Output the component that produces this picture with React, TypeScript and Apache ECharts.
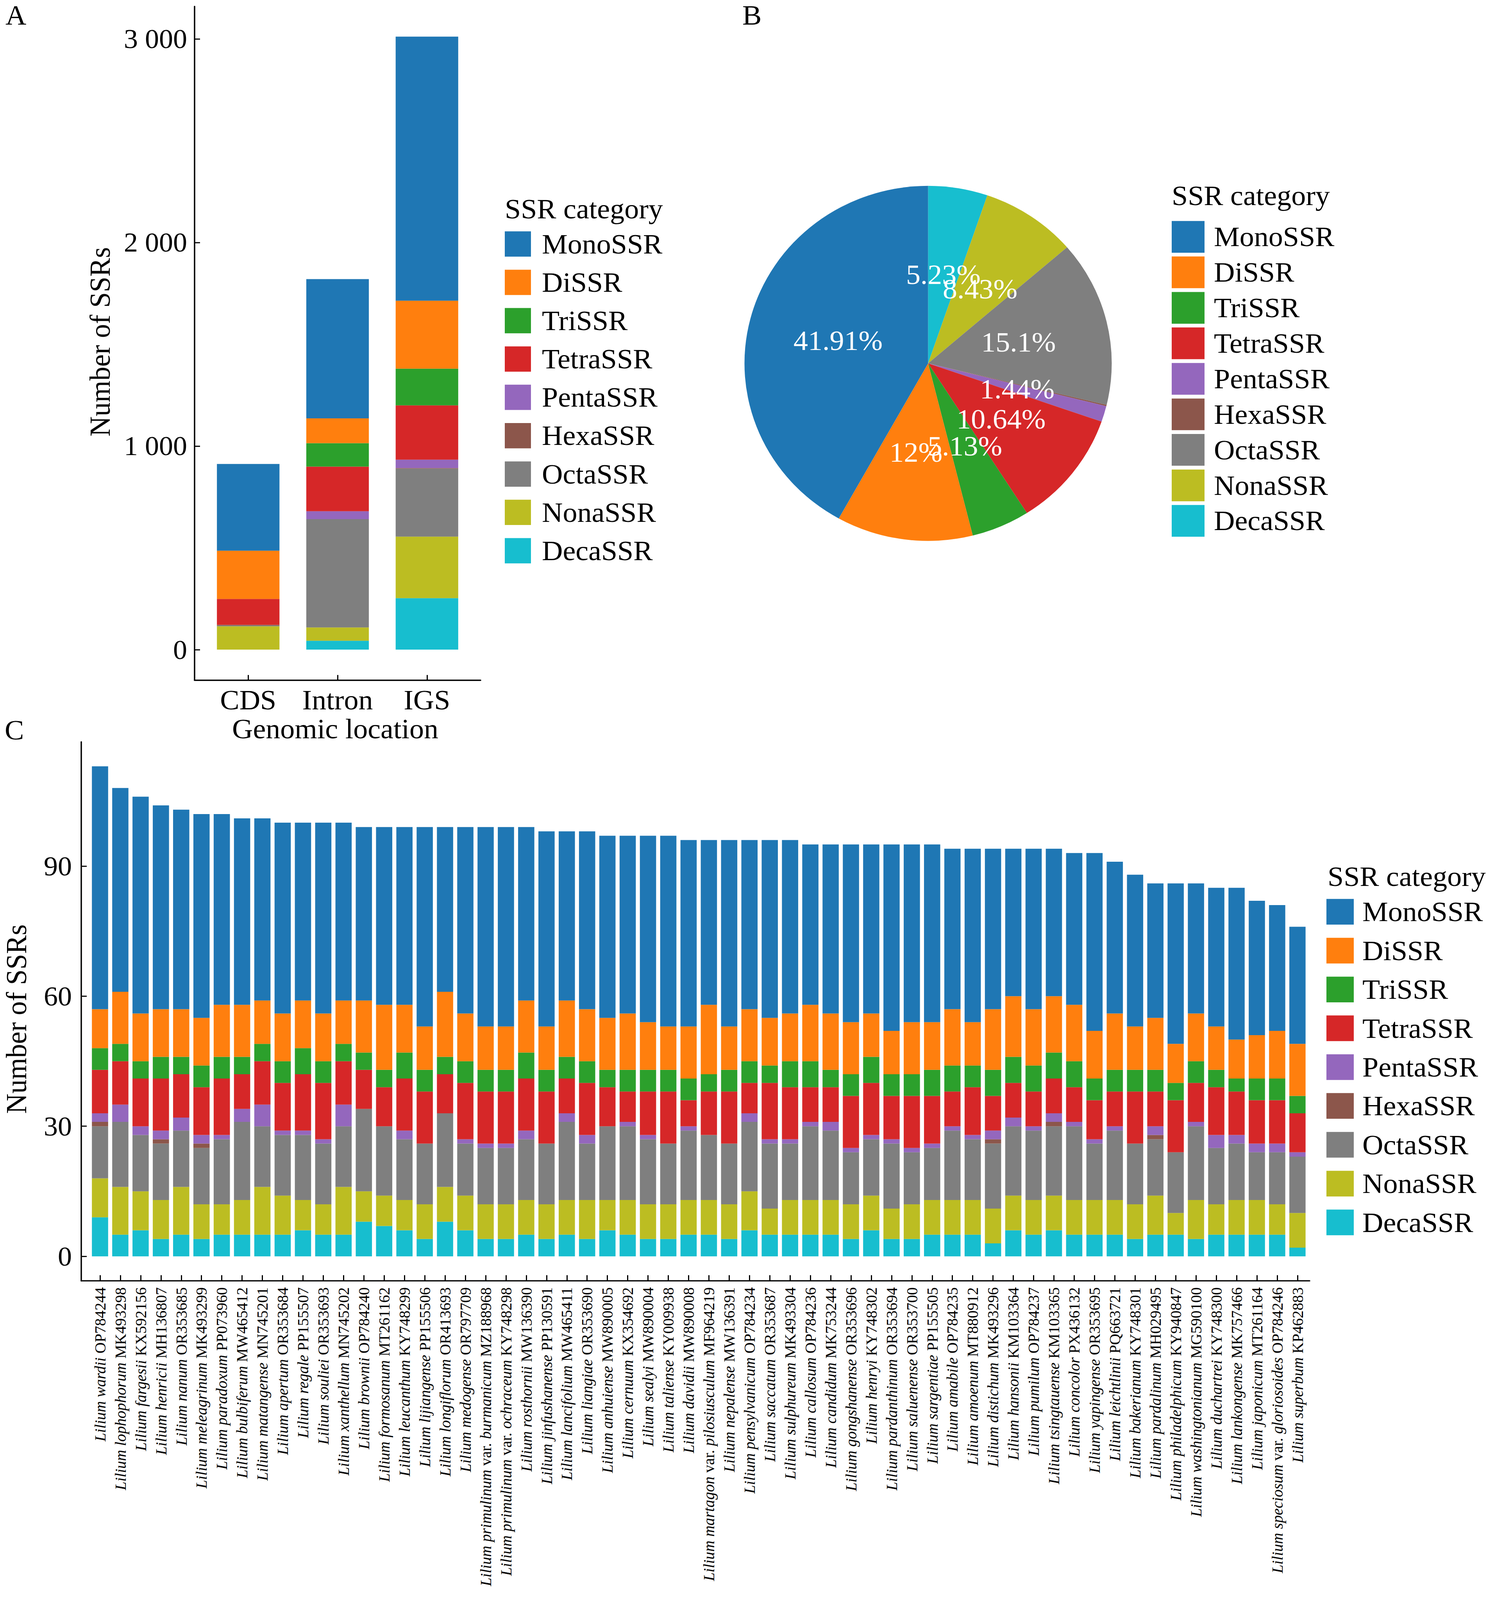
import React, { useEffect, useRef } from "react";
import * as echarts from "echarts";

const FONT = "Liberation Serif";
const PAGE_W = 3806;
const PAGE_H = 4236;

const ssrTypes = ["MonoSSR", "DiSSR", "TriSSR", "TetraSSR", "PentaSSR", "HexaSSR", "OctaSSR", "NonaSSR", "DecaSSR"];
const ssrColors = ["#1f77b4", "#ff7f0e", "#2ca02c", "#d62728", "#9467bd", "#8c564b", "#7f7f7f", "#bcbd22", "#17becf"];

// ---------- Panel A ----------
const locations = ["CDS", "Intron", "IGS"];
const aMono = [426, 684, 1297];
const aDi = [237, 122, 334];
const aTri = [0, 115, 180];
const aTetra = [127, 219, 267];
const aPenta = [0, 39, 41];
const aHexa = [3, 0, 3];
const aOcta = [4, 532, 334];
const aNona = [115, 65, 302];
const aDeca = [0, 44, 253];
const aTickValues = [0, 1000, 2000, 3000];

// ---------- Panel B (clockwise from 12 o'clock) ----------
const pieNames = ["DecaSSR", "NonaSSR", "OctaSSR", "HexaSSR", "PentaSSR", "TetraSSR", "TriSSR", "DiSSR", "MonoSSR"];
const piePercents = [5.23, 8.43, 15.1, 0.12, 1.44, 10.64, 5.13, 12, 41.91];

// ---------- Panel C ----------
const species = [
  "Lilium wardii", "Lilium lophophorum", "Lilium fargesii", "Lilium henricii", "Lilium nanum",
  "Lilium meleagrinum", "Lilium paradoxum", "Lilium bulbiferum", "Lilium matangense", "Lilium apertum",
  "Lilium regale", "Lilium souliei", "Lilium xanthellum", "Lilium brownii", "Lilium formosanum",
  "Lilium leucanthum", "Lilium lijiangense", "Lilium longiflorum", "Lilium medogense", "Lilium primulinum var. burmanicum",
  "Lilium primulinum var. ochraceum", "Lilium rosthornii", "Lilium jinfushanense", "Lilium lancifolium", "Lilium liangiae",
  "Lilium anhuiense", "Lilium cernuum", "Lilium sealyi", "Lilium taliense", "Lilium davidii",
  "Lilium martagon var. pilosiusculum", "Lilium nepalense", "Lilium pensylvanicum", "Lilium saccatum", "Lilium sulphureum",
  "Lilium callosum", "Lilium candidum", "Lilium gongshanense", "Lilium henryi", "Lilium pardanthinum",
  "Lilium saluenense", "Lilium sargentiae", "Lilium amabile", "Lilium amoenum", "Lilium distichum",
  "Lilium hansonii", "Lilium pumilum", "Lilium tsingtauense", "Lilium concolor", "Lilium yapingense",
  "Lilium leichtlinii", "Lilium bakerianum", "Lilium pardalinum", "Lilium philadelphicum", "Lilium washingtonianum",
  "Lilium duchartrei", "Lilium lankongense", "Lilium japonicum", "Lilium speciosum var. gloriosoides", "Lilium superbum",
];
const accessions = [
  "OP784244", "MK493298", "KX592156", "MH136807", "OR353685",
  "MK493299", "PP073960", "MW465412", "MN745201", "OR353684",
  "PP155507", "OR353693", "MN745202", "OP784240", "MT261162",
  "KY748299", "PP155506", "OR413693", "OR797709", "MZ188968",
  "KY748298", "MW136390", "PP130591", "MW465411", "OR353690",
  "MW890005", "KX354692", "MW890004", "KY009938", "MW890008",
  "MF964219", "MW136391", "OP784234", "OR353687", "MK493304",
  "OP784236", "MK753244", "OR353696", "KY748302", "OR353694",
  "OR353700", "PP155505", "OP784235", "MT880912", "MK493296",
  "KM103364", "OP784237", "KM103365", "PX436132", "OR353695",
  "PQ663721", "KY748301", "MH029495", "KY940847", "MG590100",
  "KY748300", "MK757466", "MT261164", "OP784246", "KP462883",
];
const cMono = [56, 47, 50, 47, 46, 47, 44, 43, 42, 44, 41, 44, 41, 40, 41, 41, 46, 38, 43, 46, 46, 40, 45, 39, 41, 42, 41, 43, 44, 43, 38, 43, 39, 41, 40, 37, 39, 41, 39, 43, 41, 41, 37, 40, 37, 34, 37, 34, 35, 41, 35, 35, 31, 37, 30, 32, 35, 31, 29, 27];
const cDi = [9, 12, 11, 11, 11, 11, 12, 12, 10, 11, 11, 11, 10, 12, 15, 11, 10, 15, 11, 10, 10, 12, 10, 13, 12, 12, 13, 11, 10, 12, 16, 10, 12, 11, 11, 13, 13, 12, 10, 10, 12, 11, 13, 10, 14, 14, 13, 13, 13, 11, 13, 10, 12, 9, 11, 10, 9, 10, 11, 12];
const cTri = [5, 4, 4, 5, 4, 5, 5, 4, 4, 5, 6, 5, 4, 4, 4, 6, 5, 4, 5, 5, 5, 6, 5, 5, 5, 4, 5, 5, 5, 5, 4, 5, 5, 4, 6, 6, 4, 5, 6, 5, 5, 6, 6, 5, 6, 6, 6, 6, 6, 5, 5, 5, 5, 4, 5, 4, 3, 5, 5, 4];
const cTetra = [10, 10, 11, 12, 10, 11, 13, 8, 10, 11, 13, 13, 10, 9, 9, 12, 12, 9, 13, 12, 12, 12, 12, 8, 12, 9, 7, 10, 12, 6, 10, 12, 7, 13, 12, 8, 8, 12, 12, 10, 12, 11, 8, 11, 8, 8, 8, 8, 8, 9, 8, 12, 8, 12, 9, 11, 10, 10, 10, 9];
const cPenta = [2, 4, 2, 2, 3, 2, 1, 3, 5, 1, 1, 1, 5, 0, 0, 2, 0, 0, 1, 1, 1, 2, 0, 2, 2, 0, 1, 1, 0, 1, 0, 0, 2, 1, 1, 1, 2, 1, 1, 1, 1, 1, 1, 1, 2, 2, 1, 2, 1, 1, 1, 0, 2, 0, 1, 3, 2, 2, 2, 1];
const cHexa = [1, 0, 0, 1, 0, 1, 0, 0, 0, 0, 0, 0, 0, 0, 0, 0, 0, 0, 0, 0, 0, 0, 0, 0, 0, 0, 0, 0, 0, 0, 0, 0, 0, 0, 0, 0, 0, 0, 0, 0, 0, 0, 0, 0, 1, 0, 0, 1, 0, 0, 0, 0, 1, 0, 0, 0, 0, 0, 0, 0];
const cOcta = [12, 15, 13, 13, 13, 13, 15, 18, 14, 14, 15, 14, 14, 19, 16, 14, 14, 17, 12, 13, 13, 14, 14, 18, 13, 17, 17, 15, 14, 16, 15, 14, 16, 15, 13, 17, 16, 12, 13, 15, 12, 12, 16, 14, 15, 16, 16, 16, 17, 13, 16, 14, 13, 14, 17, 13, 13, 11, 12, 13];
const cNona = [9, 11, 9, 9, 11, 8, 7, 8, 11, 9, 7, 7, 11, 7, 7, 7, 8, 8, 8, 8, 8, 8, 8, 8, 9, 7, 8, 8, 8, 8, 8, 8, 9, 6, 8, 8, 8, 8, 8, 7, 8, 8, 8, 8, 8, 8, 8, 8, 8, 8, 8, 8, 9, 5, 9, 7, 8, 8, 7, 8];
const cDeca = [9, 5, 6, 4, 5, 4, 5, 5, 5, 5, 6, 5, 5, 8, 7, 6, 4, 8, 6, 4, 4, 5, 4, 5, 4, 6, 5, 4, 4, 5, 5, 4, 6, 5, 5, 5, 5, 4, 6, 4, 4, 5, 5, 5, 3, 6, 5, 6, 5, 5, 5, 4, 5, 5, 4, 5, 5, 5, 5, 2];
const cTickValues = [0, 30, 60, 90];

function buildStacked(valuesByType: number[][], axisIndex: number, widthRatio: number) {
  const n = valuesByType[0].length;
  const base = new Array(n).fill(0);
  const series: any[] = [];
  for (let t = ssrTypes.length - 1; t >= 0; t--) {
    const color = ssrColors[t];
    const data = valuesByType[t].map((v, i) => {
      const row = [i + 1, base[i], base[i] + v];
      base[i] += v;
      return row;
    });
    series.push({
      type: "custom",
      name: ssrTypes[t],
      xAxisIndex: axisIndex,
      yAxisIndex: axisIndex,
      data,
      encode: { x: 0, y: [1, 2] },
      itemStyle: { color },
      silent: true,
      renderItem: (_params: any, api: any) => {
        const x = api.value(0);
        const bottom = api.coord([x, api.value(1)]);
        const top = api.coord([x, api.value(2)]);
        const w = api.size([1, 0])[0] * widthRatio;
        return {
          type: "rect",
          shape: { x: bottom[0] - w / 2, y: top[1], width: w, height: Math.max(0, bottom[1] - top[1]) },
          style: { fill: color },
        };
      },
    });
  }
  return series;
}

function fmtThousands(v: number) {
  if (v >= 1000) return `${Math.floor(v / 1000)} ${String(v % 1000).padStart(3, "0")}`;
  return String(v);
}

function cLabel(v: number) {
  const i = Math.round(v) - 1;
  const sp = species[i];
  if (!sp) return "";
  const parts = sp.split(" var. ");
  const name = parts.length === 2 ? `{i|${parts[0]}} {n|var.} {i|${parts[1]}}` : `{i|${sp}}`;
  return `${name} {n|${accessions[i]}}`;
}

const axisLineStyle = { color: "#000", width: 3.5 };
const tickStyle = { color: "#000", width: 3 };

function legendCfg(left: number, top: number, w: number, h: number, gap: number, pad: number) {
  return {
    orient: "vertical",
    left,
    top,
    padding: 0,
    itemWidth: w,
    itemHeight: h,
    itemGap: gap,
    icon: "rect",
    selectedMode: false,
    itemStyle: { borderWidth: 0 },
    data: ssrTypes,
    textStyle: { fontSize: 74, fontFamily: FONT, color: "#000", lineHeight: 60, padding: [0, 0, 0, pad] },
  };
}

function txt(text: string, x: number, y: number, align = "left", rotation = 0, size = 74) {
  return {
    type: "text",
    x,
    y,
    rotation,
    silent: true,
    style: {
      text,
      fill: "#000",
      fontSize: size,
      fontFamily: FONT,
      align,
      textAlign: align,
      verticalAlign: "middle",
      textVerticalAlign: "middle",
    },
  };
}

function buildOption() {
  const aValues = [aMono, aDi, aTri, aTetra, aPenta, aHexa, aOcta, aNona, aDeca];
  const cValues = [cMono, cDi, cTri, cTetra, cPenta, cHexa, cOcta, cNona, cDeca];
  const cPositions = species.map((_, i) => i + 1);
  const aPositions = locations.map((_, i) => i + 1);

  return {
    animation: false,
    backgroundColor: "#ffffff",
    textStyle: { fontFamily: FONT },
    grid: [
      { left: 498, top: 17, width: 732, height: 1784, outerBoundsMode: "none", containLabel: false },
      { left: 208, top: 1964, width: 3144, height: 1427, outerBoundsMode: "none", containLabel: false },
    ],
    xAxis: [
      {
        type: "value",
        gridIndex: 0,
        min: 0.4,
        max: 3.6,
        splitLine: { show: false },
        axisLine: { show: true, onZero: false, lineStyle: axisLineStyle },
        axisTick: { show: true, inside: true, length: 14, lineStyle: tickStyle, customValues: aPositions },
        axisLabel: {
          customValues: aPositions,
          formatter: (v: number) => locations[Math.round(v) - 1] || "",
          fontSize: 74,
          fontFamily: FONT,
          color: "#000",
          margin: 15,
        },
      },
      {
        type: "value",
        gridIndex: 1,
        min: 0.076,
        max: 60.6,
        splitLine: { show: false },
        axisLine: { show: true, onZero: false, lineStyle: axisLineStyle },
        axisTick: { show: true, inside: true, length: 15, lineStyle: tickStyle, customValues: cPositions },
        axisLabel: {
          customValues: cPositions,
          formatter: cLabel,
          rotate: 90,
          fontSize: 41,
          fontFamily: FONT,
          color: "#000",
          margin: 17,
          rich: {
            i: { fontStyle: "italic", fontSize: 41, fontFamily: FONT, color: "#000" },
            n: { fontStyle: "normal", fontSize: 41, fontFamily: FONT, color: "#000" },
          },
        },
      },
    ],
    yAxis: [
      {
        type: "value",
        gridIndex: 0,
        min: -150.45,
        max: 3159.45,
        splitLine: { show: false },
        axisLine: { show: true, onZero: false, lineStyle: axisLineStyle },
        axisTick: { show: true, inside: true, length: 14, lineStyle: tickStyle, customValues: aTickValues },
        axisLabel: {
          customValues: aTickValues,
          formatter: fmtThousands,
          fontSize: 72,
          fontFamily: FONT,
          color: "#000",
          margin: 19,
        },
      },
      {
        type: "value",
        gridIndex: 1,
        min: -5.65,
        max: 118.65,
        splitLine: { show: false },
        axisLine: { show: true, onZero: false, lineStyle: axisLineStyle },
        axisTick: { show: true, inside: true, length: 14, lineStyle: tickStyle, customValues: cTickValues },
        axisLabel: {
          customValues: cTickValues,
          fontSize: 72,
          fontFamily: FONT,
          color: "#000",
          margin: 24,
        },
      },
    ],
    legend: [
      legendCfg(1292, 609, 67, 67, 27.5, 23),
      legendCfg(2999, 585, 84, 84, 10, 19),
      legendCfg(3395, 2377, 70, 68, 28.8, 17),
    ],
    graphic: [
      txt("A", 14, 40),
      txt("B", 1900, 40),
      txt("C", 12, 1933),
      txt("SSR category", 1292, 553),
      txt("SSR category", 2999, 518),
      txt("SSR category", 3398, 2321),
      txt("Number of SSRs", 256, 905, "center", Math.PI / 2),
      txt("Number of SSRs", 42, 2698, "center", Math.PI / 2),
      txt("Genomic location", 858, 1930, "center"),
    ],
    series: [
      ...buildStacked(aValues, 0, 0.7),
      {
        type: "pie",
        center: [2375.5, 962],
        radius: 470,
        startAngle: 90,
        clockwise: true,
        silent: true,
        avoidLabelOverlap: false,
        labelLayout: { hideOverlap: false },
        labelLine: { show: false },
        label: {
          show: true,
          position: "inside",
          formatter: (p: any) => `${p.value}%`,
          color: "#fff",
          fontSize: 74,
          fontFamily: FONT,
          textBorderWidth: 0,
        },
        itemStyle: { borderWidth: 0 },
        data: pieNames.map((n, i) => ({
          name: n,
          value: piePercents[i],
          itemStyle: { color: ssrColors[ssrTypes.indexOf(n)] },
          label: piePercents[i] < 1 ? { show: false } : undefined,
        })),
      },
      ...buildStacked(cValues, 1, 0.8),
    ],
  };
}

export default function App() {
  const ref = useRef<HTMLDivElement>(null);
  const vw = typeof window !== "undefined" && window.innerWidth > 0 ? window.innerWidth : PAGE_W;
  const vh = typeof window !== "undefined" && window.innerHeight > 0 ? window.innerHeight : PAGE_H;
  const sx = vw / PAGE_W;
  const sy = vh / PAGE_H;

  useEffect(() => {
    if (!ref.current) return;
    const chart = echarts.init(ref.current, null, { renderer: "svg" });
    chart.setOption(buildOption() as any);
    return () => chart.dispose();
  }, []);

  return (
    <div
      style={{
        position: "fixed",
        left: 0,
        top: 0,
        width: "100vw",
        height: "100vh",
        overflow: "hidden",
        background: "#ffffff",
      }}
    >
      <div
        ref={ref}
        style={{
          position: "absolute",
          left: 0,
          top: 0,
          width: PAGE_W,
          height: PAGE_H,
          background: "#ffffff",
          transform: `scale(${sx}, ${sy})`,
          transformOrigin: "0 0",
        }}
      />
    </div>
  );
}
